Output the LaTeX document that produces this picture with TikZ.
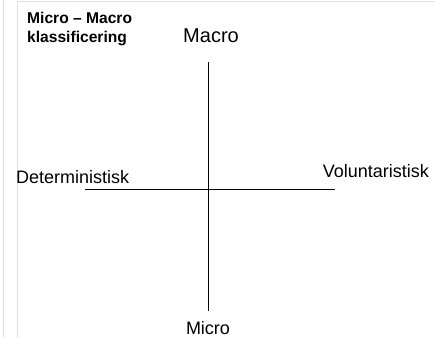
\documentclass[tikz,border=0pt]{standalone}
\usepackage{fontspec}
\setmainfont{Liberation Sans}
\usetikzlibrary{positioning}

\begin{document}
\begin{tikzpicture}[x=1pt,y=-1pt,
  axis/.style={draw=black,line width=1pt},
  frame/.style={draw=black!12,line width=1pt},
  lbl/.style={inner sep=0pt,anchor=base,font=\fontsize{18}{20}\selectfont}]
\useasboundingbox (0,0) rectangle (435,337);
% slide frame
\coordinate (fa) at (3,0);
\coordinate (fb) at (3,337);
\coordinate (fc) at (17,337);
\coordinate (fd) at (17,2);
\coordinate (fe) at (435,2);
\draw [frame] (fa) -- (fb);
\draw [frame] (fc) -- (fd) -- (fe);
% title
\node (title) [anchor=base west,inner sep=0pt,align=left,
  font=\fontsize{15.6}{19}\selectfont\bfseries] at (27,42) {Micro -- Macro\\klassificering};
% axes
\coordinate (top) at (208,62);
\coordinate (bottom) at (208,311);
\coordinate (left) at (85,189);
\coordinate (right) at (335,189);
\draw [axis] (top) -- (bottom);
\draw [axis] (left) -- (right);
% labels
\node (macro) [lbl,font=\fontsize{20}{22}\selectfont] at (211,42) {Macro};
\node (micro) [lbl] at (208,334) {Micro};
\node (det) [lbl,anchor=base west] at (16,183) {Deterministisk};
\node (vol) [lbl,anchor=base east] at (429,177) {Voluntaristisk};
\end{tikzpicture}
\end{document}
